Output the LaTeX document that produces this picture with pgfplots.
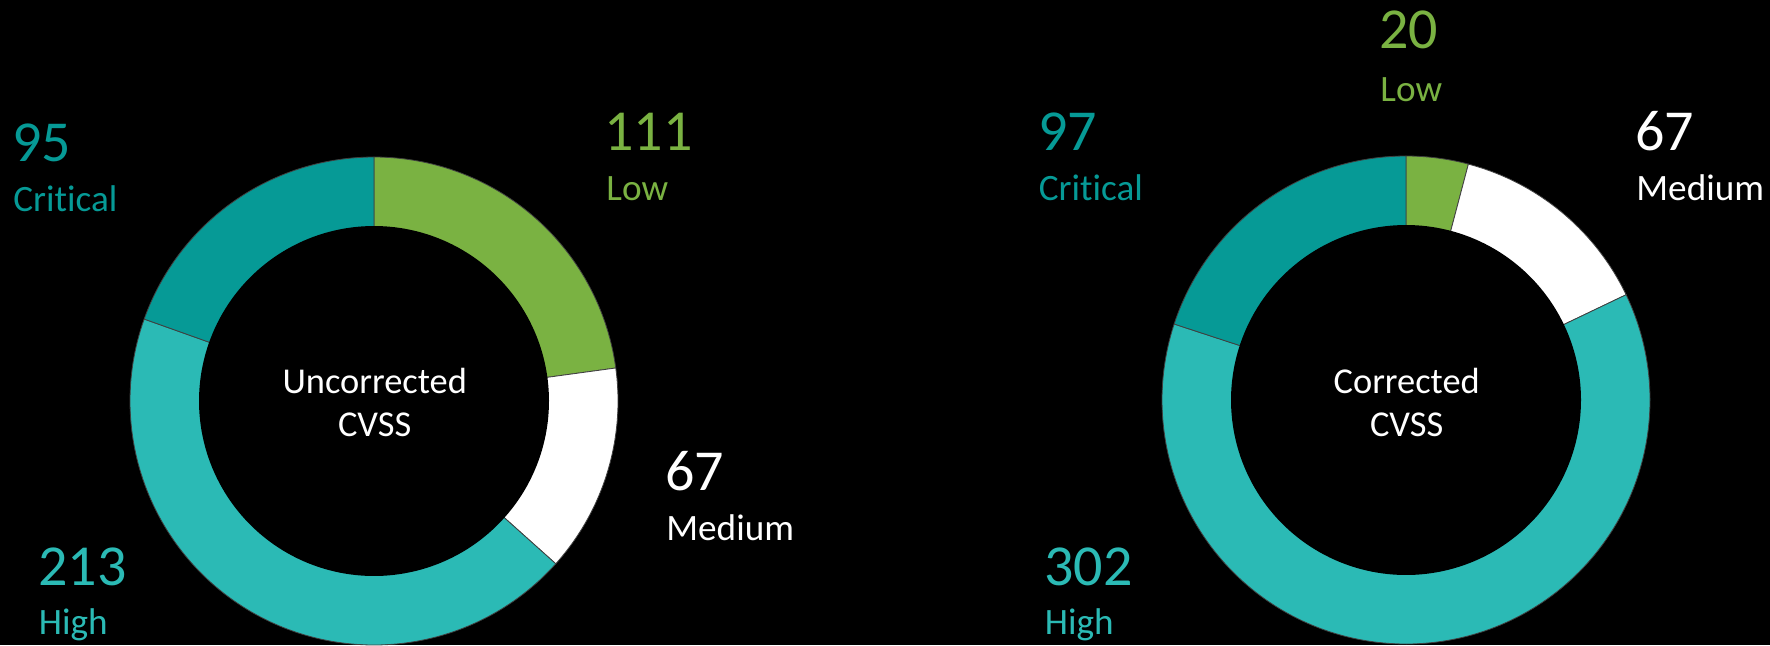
\documentclass[border=0pt]{standalone}
\usepackage{pgfplots}
\usepackage{pgfplotstable}
\pgfplotsset{compat=1.18}
\usepackage{fontspec}
\setmainfont{Carlito}[Ligatures=NoCommon]
\definecolor{crit}{RGB}{6,154,150}
\definecolor{high}{RGB}{43,186,181}
\definecolor{low}{RGB}{122,178,66}

\pgfplotstableread{
seg value
Low 111
Medium 67
High 213
Critical 95
}\uncorr
\pgfplotstableread{
seg value
Low 20
Medium 67
High 302
Critical 97
}\corr

\newcommand\angles[2]{%
\pgfplotstablegetelem{0}{value}\of{#1}\edef\vA{\pgfplotsretval}%
\pgfplotstablegetelem{1}{value}\of{#1}\edef\vB{\pgfplotsretval}%
\pgfplotstablegetelem{2}{value}\of{#1}\edef\vC{\pgfplotsretval}%
\pgfplotstablegetelem{3}{value}\of{#1}\edef\vD{\pgfplotsretval}%
\pgfmathsetmacro\tot{\vA+\vB+\vC+\vD}%
\pgfmathsetmacro\angA{90-360*(\vA/\tot)}%
\pgfmathsetmacro\angB{\angA-360*(\vB/\tot)}%
\pgfmathsetmacro\angC{\angB-360*(\vC/\tot)}%
\expandafter\let\csname #2A\endcsname\angA
\expandafter\let\csname #2B\endcsname\angB
\expandafter\let\csname #2C\endcsname\angC
}
\angles{\uncorr}{U}
\angles{\corr}{K}

\newcommand\bignum{\fontsize{29}{29}\selectfont}
\newcommand\smalllab{\fontsize{18.6}{18.6}\selectfont}
\newcommand\centerlab{\fontsize{18.2}{18.2}\selectfont}

\begin{document}
\begin{tikzpicture}
\begin{axis}[
  width=885pt, height=322.5pt, scale only axis,
  xmin=0, xmax=1770, ymin=0, ymax=645,
  ticks=none, axis line style={draw=none},
  axis background/.style={fill=black},
  clip=true,
  every axis plot/.append style={draw=black!75, line width=0.4pt},
]
% ---- Uncorrected donut (center 374,244)
\addplot[fill=low, domain=\UA:90, samples=60] ({374+244*cos(x)},{244+244*sin(x)}) -- (axis cs:374,244) -- cycle;
\addplot[fill=white, domain=\UB:\UA, samples=60] ({374+244*cos(x)},{244+244*sin(x)}) -- (axis cs:374,244) -- cycle;
\addplot[fill=high, domain=\UC:\UB, samples=120] ({374+244*cos(x)},{244+244*sin(x)}) -- (axis cs:374,244) -- cycle;
\addplot[fill=crit, domain=-270:\UC, samples=60] ({374+244*cos(x)},{244+244*sin(x)}) -- (axis cs:374,244) -- cycle;
\addplot[fill=black, draw=none, domain=0:360, samples=200] ({374+175*cos(x)},{244+175*sin(x)}) -- cycle;
% ---- Corrected donut (center 1406,245)
\addplot[fill=low, domain=\KA:90, samples=30] ({1406+244*cos(x)},{245+244*sin(x)}) -- (axis cs:1406,245) -- cycle;
\addplot[fill=white, domain=\KB:\KA, samples=60] ({1406+244*cos(x)},{245+244*sin(x)}) -- (axis cs:1406,245) -- cycle;
\addplot[fill=high, domain=\KC:\KB, samples=160] ({1406+244*cos(x)},{245+244*sin(x)}) -- (axis cs:1406,245) -- cycle;
\addplot[fill=crit, domain=-270:\KC, samples=60] ({1406+244*cos(x)},{245+244*sin(x)}) -- (axis cs:1406,245) -- cycle;
\addplot[fill=black, draw=none, domain=0:360, samples=200] ({1406+175*cos(x)},{245+175*sin(x)}) -- cycle;

% ---- labels, left
\node[anchor=base west, inner sep=0, text=crit, font=\bignum] at (axis cs:12,483.3) {95};
\node[anchor=base west, inner sep=0, text=crit, font=\smalllab] at (axis cs:13,434) {Critical};
\node[anchor=base west, inner sep=0, text=low, font=\bignum] at (axis cs:604,494.3) {111};
\node[anchor=base west, inner sep=0, text=low, font=\smalllab] at (axis cs:606,445) {Low};
\node[anchor=base west, inner sep=0, text=white, font=\bignum] at (axis cs:665,155) {67};
\node[anchor=base west, inner sep=0, text=white, font=\smalllab] at (axis cs:666,105) {Medium};
\node[anchor=base west, inner sep=0, text=high, font=\bignum] at (axis cs:38,60) {213};
\node[anchor=base west, inner sep=0, text=high, font=\smalllab] at (axis cs:38.5,11) {High};
\node[anchor=base, inner sep=0, text=white, font=\centerlab] at (axis cs:374.7,252) {Uncorrected};
\node[anchor=base, inner sep=0, text=white, font=\centerlab] at (axis cs:374.7,209) {CVSS};
% ---- labels, right
\node[anchor=base west, inner sep=0, text=crit, font=\bignum] at (axis cs:1038,495) {97};
\node[anchor=base west, inner sep=0, text=crit, font=\smalllab] at (axis cs:1038.5,445) {Critical};
\node[anchor=base west, inner sep=0, text=low, font=\bignum] at (axis cs:1379,596.7) {20};
\node[anchor=base west, inner sep=0, text=low, font=\smalllab] at (axis cs:1380,543.3) {Low};
\node[anchor=base west, inner sep=0, text=white, font=\bignum] at (axis cs:1635,495) {67};
\node[anchor=base west, inner sep=0, text=white, font=\smalllab] at (axis cs:1636,445) {Medium};
\node[anchor=base west, inner sep=0, text=high, font=\bignum] at (axis cs:1044,60) {302};
\node[anchor=base west, inner sep=0, text=high, font=\smalllab] at (axis cs:1044.5,11) {High};
\node[anchor=base, inner sep=0, text=white, font=\centerlab] at (axis cs:1406.7,252) {Corrected};
\node[anchor=base, inner sep=0, text=white, font=\centerlab] at (axis cs:1406.7,209) {CVSS};
\end{axis}
\end{tikzpicture}
\end{document}
